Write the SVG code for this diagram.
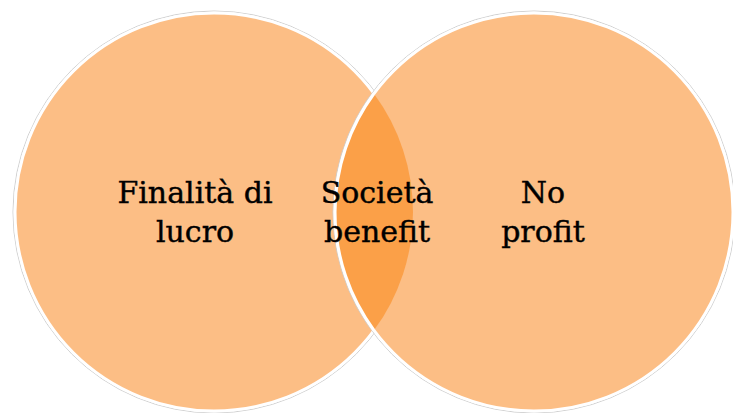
<svg xmlns="http://www.w3.org/2000/svg" width="733" height="413" viewBox="0 0 733 413">
<defs>
<style>
.c{fill:#FCBE85;stroke:#ffffff;stroke-width:3}
.sh{fill:none;stroke:#d0d0d0;stroke-width:1}
.t{font-family:"DejaVu Serif","Liberation Serif",serif;font-size:30px;fill:#000;text-anchor:middle;stroke:#000;stroke-width:0.4}
</style>
</defs>
<rect width="733" height="413" fill="#ffffff"/>
<g id="left">
<circle cx="214" cy="212" r="201" class="sh"/>
<circle cx="214" cy="212" r="199" class="c"/>
</g>
<g id="right">
<circle cx="534" cy="212" r="201" class="sh"/>
<circle cx="534" cy="212" r="199" class="c"/>
</g>
<g id="overlap">
<path d="M374 93.7 A199 199 0 0 1 374 330.3 A199 199 0 0 1 374 93.7 Z" fill="#FBA048"/>
<path d="M374 93.7 A199 199 0 0 0 374 330.3" fill="none" stroke="#ffffff" stroke-width="3"/>
</g>
<g id="labels">
<text class="t" x="195" y="203">Finalità di</text>
<text class="t" x="195" y="242">lucro</text>
<text class="t" x="377" y="203">Società</text>
<text class="t" x="377" y="242">benefit</text>
<text class="t" x="543" y="203">No</text>
<text class="t" x="543" y="242">profit</text>
</g>
<g id="connectors"/>
</svg>
